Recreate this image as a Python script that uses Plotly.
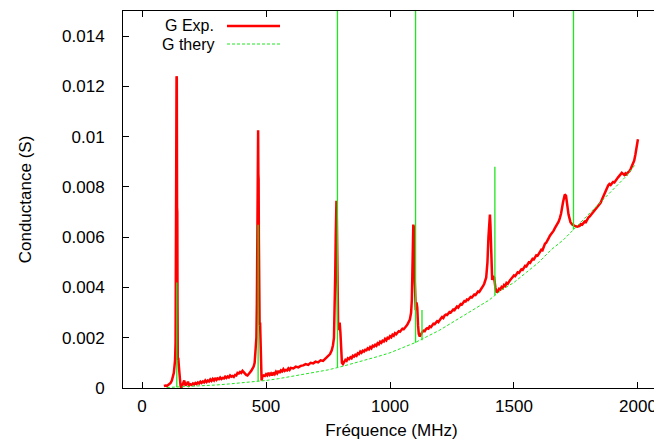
import plotly.graph_objects as go

exp_freq_a = [88, 95, 100, 105, 110, 115, 120, 124, 128, 131, 133, 135, 136, 137, 138, 139, 140, 141, 142, 143, 144, 146, 148, 150, 152, 155, 158,
              160, 165, 170, 175, 180, 185, 190, 195, 200, 205, 210, 215, 220, 225, 230, 235, 240, 245, 250, 255, 260, 265, 270, 275, 280, 285,
              290, 295, 300, 305, 310, 315, 320, 325, 330, 335, 340, 345, 350, 355, 360, 365, 370, 375, 380, 385, 390, 395, 400, 405, 410, 415,
              420, 425, 430, 435, 440, 445, 450, 454, 458, 461, 463, 465, 466, 468, 469, 470, 471, 472, 474, 476, 478, 480, 482, 485, 490,
              495, 500, 505, 510, 515, 520, 525, 530, 535, 540, 545, 550, 555, 560, 565, 570, 575, 580, 585, 590, 595, 600, 610, 620, 630, 640,
              650, 660, 670, 680, 690, 700, 710, 720, 730, 740, 750, 758, 765, 770, 774, 777, 779, 781, 782, 784, 785, 786, 787, 789, 791, 794,
              797, 800, 803, 806]
exp_g_a = [0.00008, 0.00010, 0.00008, 0.00012, 0.00015, 0.00020, 0.00030, 0.00045, 0.00060, 0.00090, 0.00110, 0.00180, 0.00400, 0.00550,
           0.00520, 0.01240, 0.01235, 0.00720, 0.00700, 0.00320, 0.00110, 0.00120, 0.00090, 0.00060, 0.00030, 0.00010, 0.00000,
           0.00005, 0.00020, 0.00030, 0.00010, 0.00015, 0.00025, 0.00010, 0.00015, 0.00012, 0.00018, 0.00014, 0.00020, 0.00016, 0.00022,
           0.00018, 0.00025, 0.00020, 0.00026, 0.00022, 0.00030, 0.00024, 0.00030, 0.00026, 0.00034, 0.00028, 0.00036, 0.00030, 0.00040,
           0.00032, 0.00038, 0.00035, 0.00042, 0.00036, 0.00040, 0.00038, 0.00045, 0.00040, 0.00046, 0.00042, 0.00050, 0.00045, 0.00048,
           0.00044, 0.00052, 0.00050, 0.00060, 0.00058, 0.00064, 0.00060, 0.00068, 0.00062, 0.00055, 0.00052, 0.00050, 0.00058, 0.00062,
           0.00068, 0.00075, 0.00085, 0.00100, 0.00140, 0.00200, 0.00340, 0.00600, 0.01020, 0.01025, 0.00850, 0.00830, 0.00600, 0.00340,
           0.00250, 0.00260, 0.00150, 0.00060, 0.00030, 0.00045, 0.00050,
           0.00048, 0.00055, 0.00050, 0.00060, 0.00052, 0.00058, 0.00050, 0.00062, 0.00055, 0.00065, 0.00058, 0.00068, 0.00060, 0.00070,
           0.00066, 0.00075, 0.00068, 0.00072, 0.00070, 0.00078, 0.00072, 0.00080, 0.00078, 0.00085, 0.00082, 0.00088,
           0.00090, 0.00095, 0.00092, 0.00100, 0.00098, 0.00105, 0.00102, 0.00110, 0.00108, 0.00118, 0.00125, 0.00135, 0.00150, 0.00170,
           0.00200, 0.00300, 0.00450, 0.00600, 0.00745, 0.00745, 0.00700, 0.00560, 0.00400, 0.00280, 0.00230, 0.00250,
           0.00260, 0.00220, 0.00150, 0.00100]

exp_freq_b = [810, 815, 820, 825, 830, 835, 840, 845, 850, 855, 860, 865, 870, 875, 880, 885, 890, 895, 900, 905, 910, 915, 920, 925,
              930, 935, 940, 945, 950, 955, 960, 965, 970, 975, 980, 985, 990, 995, 1000, 1005, 1010, 1015, 1020, 1025, 1030, 1035,
              1040, 1045, 1050, 1055, 1060, 1065, 1070, 1075, 1080, 1085, 1088, 1090, 1092, 1094, 1096, 1098, 1100, 1102, 1104, 1107,
              1110, 1113, 1116, 1120, 1125]
exp_g_b = [0.00095, 0.00105, 0.00112, 0.00108, 0.00118, 0.00115, 0.00122, 0.00118, 0.00128, 0.00125, 0.00132, 0.00128, 0.00138,
           0.00135, 0.00145, 0.00140, 0.00148, 0.00145, 0.00152, 0.00150, 0.00158, 0.00154, 0.00163, 0.00158, 0.00168, 0.00165,
           0.00172, 0.00168, 0.00178, 0.00174, 0.00184, 0.00180, 0.00188, 0.00185, 0.00195, 0.00190, 0.00200, 0.00197, 0.00206,
           0.00202, 0.00212, 0.00208, 0.00218, 0.00214, 0.00222, 0.00226, 0.00224, 0.00232, 0.00236, 0.00234, 0.00242, 0.00246,
           0.00252, 0.00260, 0.00272, 0.00300, 0.00350, 0.00450, 0.00620, 0.00650, 0.00640, 0.00580, 0.00420, 0.00340, 0.00310,
           0.00340, 0.00320, 0.00250, 0.00215, 0.00205, 0.00215]

exp_freq_c = [1130, 1135, 1140, 1145, 1150, 1155, 1160, 1165, 1170, 1175, 1180, 1185, 1190, 1195, 1200, 1205, 1210, 1215, 1220, 1225,
              1230, 1235, 1240, 1245, 1250, 1255, 1260, 1265, 1270, 1275, 1280, 1285, 1290, 1295, 1300, 1305, 1310, 1315, 1320, 1325,
              1330, 1335, 1340, 1345, 1350, 1355, 1360, 1365, 1370, 1375, 1380, 1388, 1393, 1397, 1400, 1403, 1405, 1407, 1409, 1412,
              1416, 1420, 1425, 1430, 1435]
exp_g_c = [0.00222, 0.00228, 0.00226, 0.00234, 0.00238, 0.00236, 0.00245, 0.00242, 0.00252, 0.00256, 0.00254, 0.00262, 0.00266,
           0.00262, 0.00272, 0.00276, 0.00282, 0.00278, 0.00288, 0.00292, 0.00290, 0.00298, 0.00302, 0.00300, 0.00308, 0.00312,
           0.00310, 0.00318, 0.00324, 0.00320, 0.00330, 0.00334, 0.00332, 0.00342, 0.00346, 0.00344, 0.00352, 0.00350, 0.00358,
           0.00362, 0.00360, 0.00368, 0.00372, 0.00370, 0.00378, 0.00384, 0.00382, 0.00392, 0.00398, 0.00405, 0.00415, 0.00440,
           0.00500, 0.00600, 0.00680, 0.00690, 0.00650, 0.00550, 0.00450, 0.00430, 0.00445, 0.00440, 0.00400, 0.00380, 0.00385]

exp_freq_d = [1440, 1445, 1450, 1455, 1460, 1465, 1470, 1475, 1480, 1485, 1490, 1495, 1500, 1505, 1510, 1515, 1520, 1525, 1530, 1535,
              1540, 1545, 1550, 1555, 1560, 1565, 1570, 1575, 1580, 1585, 1590, 1595, 1600, 1605, 1610, 1615, 1620, 1625, 1630, 1635,
              1640, 1645, 1650, 1655, 1660, 1665, 1670, 1675, 1680, 1685, 1690, 1698, 1705, 1710, 1715, 1720, 1728, 1735, 1745, 1755]
exp_g_d = [0.00395, 0.00392, 0.00402, 0.00398, 0.00410, 0.00406, 0.00418, 0.00415, 0.00425, 0.00430, 0.00436, 0.00442, 0.00448,
           0.00445, 0.00455, 0.00460, 0.00458, 0.00468, 0.00472, 0.00470, 0.00480, 0.00486, 0.00484, 0.00494, 0.00500, 0.00498,
           0.00508, 0.00514, 0.00512, 0.00522, 0.00528, 0.00526, 0.00536, 0.00544, 0.00550, 0.00548, 0.00566, 0.00574, 0.00578,
           0.00590, 0.00596, 0.00606, 0.00612, 0.00620, 0.00626, 0.00636, 0.00644, 0.00652, 0.00662, 0.00676, 0.00694, 0.00740,
           0.00770, 0.00765, 0.00730, 0.00690, 0.00660, 0.00650, 0.00645, 0.00642]

exp_freq_e = [1765, 1770, 1775, 1780, 1785, 1790, 1795, 1800, 1805, 1810, 1815, 1820, 1825, 1830, 1835, 1840, 1845, 1850, 1855, 1860,
              1865, 1870, 1875, 1880, 1885, 1890, 1895, 1900, 1905, 1910, 1915, 1920, 1925, 1930, 1935, 1940, 1945, 1950, 1955, 1960,
              1965, 1970, 1975, 1980, 1985, 1990, 1995, 2000]
exp_g_e = [0.00645, 0.00652, 0.00650, 0.00658, 0.00662, 0.00660, 0.00672, 0.00678, 0.00682, 0.00690, 0.00694, 0.00700, 0.00706,
           0.00712, 0.00718, 0.00722, 0.00730, 0.00738, 0.00750, 0.00762, 0.00772, 0.00788, 0.00800, 0.00806, 0.00812, 0.00808,
           0.00814, 0.00820, 0.00818, 0.00826, 0.00832, 0.00838, 0.00844, 0.00850, 0.00856, 0.00852, 0.00848, 0.00854, 0.00850,
           0.00858, 0.00862, 0.00870, 0.00882, 0.00890, 0.00905, 0.00930, 0.00960, 0.00990]

# ---- theoretical conductance (G thery): smooth background ----
theory_freq = [100, 150, 200, 250, 300, 350, 400, 450, 500, 550, 600, 650, 700, 750, 800, 850, 900, 950, 1000, 1050,
               1100, 1150, 1200, 1250, 1300, 1350, 1400, 1450, 1500, 1550, 1600, 1650, 1700, 1750, 1800, 1850, 1900, 1950, 1990]
theory_g = [0.00002, 0.00004, 0.00006, 0.00009, 0.00012, 0.00016, 0.00020, 0.00025, 0.00030, 0.00037, 0.00045, 0.00053, 0.00062,
            0.00072, 0.00084, 0.00097, 0.00110, 0.00125, 0.00140, 0.00160, 0.00180, 0.00205, 0.00230, 0.00260, 0.00290, 0.00320,
            0.00350, 0.00390, 0.00420, 0.00460, 0.00500, 0.00550, 0.00590, 0.00640, 0.00690, 0.00740, 0.00790, 0.00840, 0.00890]

# ---- theoretical resonance spikes ----
spike_freq = [140, 468, 788, 1103, 1129, 1423, 1740]
spike_base = [0.00003, 0.00027, 0.00083, 0.00180, 0.00190, 0.00370, 0.00630]
spike_peak = [0.00420, 0.00650, 0.01600, 0.01600, 0.00310, 0.00880, 0.01600]

# tick labels
y_tickvals = [0, 0.002, 0.004, 0.006, 0.008, 0.010, 0.012, 0.014]
y_ticktext = ["0", "0.002", "0.004", "0.006", "0.008", "0.01", "0.012", "0.014"]
x_tickvals = [0, 500, 1000, 1500, 2000]
x_ticktext = ["0", "500", "1000", "1500", "2000"]

exp_freq = exp_freq_a + exp_freq_b + exp_freq_c + exp_freq_d + exp_freq_e
exp_g = exp_g_a + exp_g_b + exp_g_c + exp_g_d + exp_g_e

RED = "#ff0000"
GREEN = "#1fe61f"
FONT = "Liberation Sans, Arial, sans-serif"

sx, sy = [], []
for f, b, p in zip(spike_freq, spike_base, spike_peak):
    sx += [f, f, None]
    sy += [b, p, None]

fig = go.Figure()
# gnuplot order: experimental curve first, theory drawn on top
fig.add_trace(go.Scatter(x=exp_freq, y=exp_g, mode="lines", name="G Exp.",
                         line=dict(color=RED, width=2.5), showlegend=False))
fig.add_trace(go.Scatter(x=theory_freq, y=theory_g, mode="lines", name="G thery",
                         line=dict(color=GREEN, width=1, dash="3px,2px"), showlegend=False))
fig.add_trace(go.Scatter(x=sx, y=sy, mode="lines", name="G thery spikes",
                         line=dict(color=GREEN, width=1.3), showlegend=False))

# page has an 8px body margin: the figure is offset by (8, 8) in the window
OFF = 8
W, H = 662 - OFF, 446 - OFF
L, R, T, B = 123 - OFF, 2, 11 - OFF, 58
pw, ph = W - L - R, H - T - B

def px(x):
    return (x - OFF - L) / pw

def py(y):
    return (H - B - (y - OFF)) / ph

fig.add_annotation(x=px(216), y=py(25), xref="paper", yref="paper", text="G Exp.", showarrow=False,
                   xanchor="right", yanchor="middle", font=dict(family=FONT, size=16, color="black"))
fig.add_annotation(x=px(216), y=py(44), xref="paper", yref="paper", text="G thery", showarrow=False,
                   xanchor="right", yanchor="middle", font=dict(family=FONT, size=16, color="black"))
fig.add_shape(type="line", xref="paper", yref="paper", x0=px(227), x1=px(280), y0=py(26), y1=py(26),
              line=dict(color=RED, width=2.5))
fig.add_shape(type="line", xref="paper", yref="paper", x0=px(227), x1=px(280), y0=py(44), y1=py(44),
              line=dict(color=GREEN, width=1, dash="3px,2px"))

fig.update_layout(
    width=W, height=H,
    margin=dict(l=L, r=R, t=T, b=B, pad=0),
    paper_bgcolor="white", plot_bgcolor="white",
    font=dict(family=FONT, size=17, color="black"),
    showlegend=False,
    xaxis=dict(range=[-77, 2089], tickvals=x_tickvals, ticktext=x_ticktext,
               ticks="inside", ticklen=6, tickwidth=1, tickcolor="black",
               showline=True, linecolor="black", linewidth=1, mirror="ticks",
               showgrid=False, zeroline=False, ticklabelstandoff=3,
               title=dict(text="Fréquence (MHz)", standoff=8, font=dict(size=17)),
               tickfont=dict(size=17), automargin=False),
    yaxis=dict(range=[0, 0.015], tickvals=y_tickvals, ticktext=y_ticktext,
               ticks="inside", ticklen=6, tickwidth=1, tickcolor="black",
               showline=True, linecolor="black", linewidth=1, mirror="ticks",
               showgrid=False, zeroline=False, ticklabelstandoff=14,
               title=dict(text="Conductance (S)", standoff=26, font=dict(size=17)),
               tickfont=dict(size=17), automargin=False),
)

fig.write_html("out.html")
